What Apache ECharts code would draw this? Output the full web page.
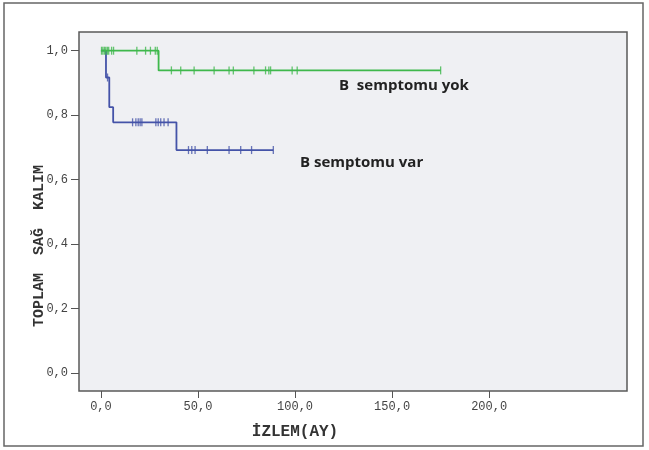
<!DOCTYPE html>
<html>
<head>
<meta charset="utf-8">
<script src="https://cdn.jsdelivr.net/npm/echarts@6/dist/echarts.min.js"></script>
<style>html,body{margin:0;padding:0;background:#fff}#c{width:649px;height:450px}</style>
</head>
<body>
<div id="c"></div>
<script>
// Kaplan-Meier step curves (event times & survival after each step)
var yokTimes = [0, 29.7, 175];
var yokSurv  = [1.0, 0.939, 0.939];
var varTimes = [0, 2.6, 4.3, 6.3, 38.9, 88.8];
var varSurv  = [1.0, 0.917, 0.825, 0.778, 0.692, 0.692];

// Censored observations (+ marks)
var yokCensorTimes = [0.3, 1, 1.8, 2.5, 3.3, 4, 5.5, 6.5, 18.5, 23, 25.5, 28, 29,
                      36.3, 41.1, 48, 58.3, 66, 68.2, 78.8, 84.8, 86.5, 87.4, 98.5, 101.1, 175];
var yokCensorSurv  = [1, 1, 1, 1, 1, 1, 1, 1, 1, 1, 1, 1, 1,
                      0.939, 0.939, 0.939, 0.939, 0.939, 0.939, 0.939, 0.939, 0.939, 0.939, 0.939, 0.939, 0.939];
var varCensorTimes = [3.4, 16.3, 18, 19.2, 20.2, 21.1, 28.3, 29.5, 30.8, 32.5, 34.6,
                      45.1, 46.8, 48.5, 54.8, 66, 72, 77.6, 88.8];
var varCensorSurv  = [0.917, 0.778, 0.778, 0.778, 0.778, 0.778, 0.778, 0.778, 0.778, 0.778, 0.778,
                      0.692, 0.692, 0.692, 0.692, 0.692, 0.692, 0.692, 0.692];

var xTicks = [0, 50, 100, 150, 200];
var yTicks = [0, 0.2, 0.4, 0.6, 0.8, 1.0];
var xTitle = 'İZLEM(AY)';
var yTitle = 'TOPLAM  SAĞ  KALIM';
var labelYok = 'B  semptomu yok';
var labelVar = 'B semptomu var';

var GREEN = '#3fb84c', BLUE = '#4453a8';
function zip(a, b) { return a.map(function (v, i) { return [v, b[i]]; }); }
function fmt(v) { return v.toFixed(1).replace('.', ','); }

var chart = echarts.init(document.getElementById('c'), null, {renderer: 'canvas'});
chart.setOption({
  backgroundColor: '#ffffff',
  animation: false,
  grid: {left: 79, top: 32, right: 22, bottom: 59, show: true,
         backgroundColor: '#eff0f3', borderColor: '#5a5a5a', borderWidth: 1.5},
  xAxis: {
    type: 'value', min: -11.3, max: 271, position: 'bottom',
    splitLine: {show: false},
    axisLine: {show: false, onZero: false},
    axisTick: {show: true, inside: false, length: 7, customValues: xTicks, lineStyle: {color: '#555'}},
    axisLabel: {customValues: xTicks, formatter: fmt, margin: 10,
                fontFamily: 'Liberation Mono', fontSize: 12, color: '#444'}
  },
  yAxis: {
    type: 'value', min: -0.055, max: 1.058, position: 'left',
    splitLine: {show: false},
    axisLine: {show: false, onZero: false},
    axisTick: {show: true, inside: false, length: 8, customValues: yTicks, lineStyle: {color: '#555'}},
    axisLabel: {customValues: yTicks, formatter: fmt, margin: 11,
                fontFamily: 'Liberation Mono', fontSize: 12, color: '#444'}
  },
  graphic: [
    {type: 'rect', shape: {x: 4, y: 3, width: 639, height: 443},
     style: {fill: 'none', stroke: '#666', lineWidth: 1.5}, silent: true},
    {type: 'text', x: 295, y: 432,
     style: {text: xTitle, font: 'bold 16px "Liberation Mono"', fill: '#333',
             textAlign: 'center', textVerticalAlign: 'middle'}},
    {type: 'text', x: 39, y: 246, rotation: Math.PI / 2,
     style: {text: yTitle, font: 'bold 15px "Liberation Mono"', fill: '#333',
             textAlign: 'center', textVerticalAlign: 'middle'}},
    {type: 'text', x: 339, y: 86,
     style: {text: labelYok, font: 'bold 15px "Open Sans"', fill: '#222',
             textAlign: 'left', textVerticalAlign: 'middle'}},
    {type: 'text', x: 300, y: 163,
     style: {text: labelVar, font: 'bold 15px "Open Sans"', fill: '#222',
             textAlign: 'left', textVerticalAlign: 'middle'}}
  ],
  series: [
    {type: 'line', step: 'end', data: zip(yokTimes, yokSurv), showSymbol: false,
     lineStyle: {color: GREEN, width: 1.8}, z: 3},
    {type: 'line', step: 'end', data: zip(varTimes, varSurv), showSymbol: false,
     lineStyle: {color: BLUE, width: 1.8}, z: 2},
    {type: 'scatter', data: zip(yokCensorTimes, yokCensorSurv), symbol: 'rect',
     symbolSize: [1.3, 8], itemStyle: {color: GREEN}, z: 4},
    {type: 'scatter', data: zip(varCensorTimes, varCensorSurv), symbol: 'rect',
     symbolSize: [1.3, 8], itemStyle: {color: BLUE}, z: 4}
  ]
});
</script>
</body>
</html>
